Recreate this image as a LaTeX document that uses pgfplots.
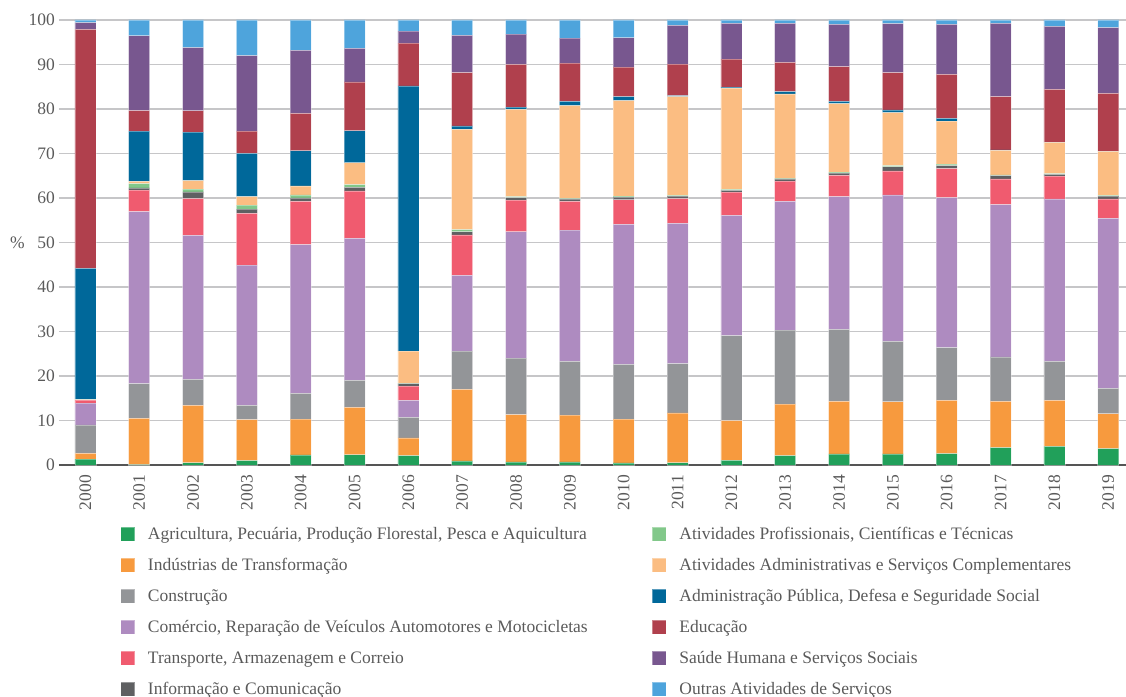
\documentclass[border=0pt]{standalone}
\usepackage{fontspec}
\setmainfont{Liberation Serif}
\usepackage{pgfplots}
\usepackage{pgfplotstable}
\pgfplotsset{compat=1.18}
\definecolor{cAgri}{HTML}{21A05A}
\definecolor{cInd}{HTML}{F79A3E}
\definecolor{cCons}{HTML}{939598}
\definecolor{cCom}{HTML}{AE8BC0}
\definecolor{cTra}{HTML}{F05B6F}
\definecolor{cInf}{HTML}{5F6062}
\definecolor{cPro}{HTML}{82C88A}
\definecolor{cAdm}{HTML}{FBBD82}
\definecolor{cPub}{HTML}{00689A}
\definecolor{cEdu}{HTML}{B0404D}
\definecolor{cSau}{HTML}{78578F}
\definecolor{cOut}{HTML}{4EA4DC}
\definecolor{tgray}{HTML}{5A5A5A}
\definecolor{ggray}{HTML}{C6C6C8}
\definecolor{bgray}{HTML}{555555}
\pgfplotstableread{
x agri ind cons com tra inf pro adm pub edu sau out
0  1.3  1.3   6.4  4.9   0.7   0.05 0.05 0.1   29.4  53.7  1.5   0.6
1  0.1  10.4  7.8  38.65 4.8   0.5  1.0  0.5   11.3  4.6   16.8  3.55
2  0.5  12.9  5.85 32.35 8.25  1.5  0.65 1.9   10.9  4.8   14.2  6.2
3  1.0  9.2   3.2  31.5  11.65 0.95 0.9  1.9   9.7   5.0   17.0  8.0
4  2.25 8.05  5.8  33.4  9.75  0.75 0.7  2.0   7.9   8.4   14.2  6.8
5  2.3  10.66 6.04 31.9  10.7  0.8  0.6  4.9   7.2   11.0  7.5   6.4
6  2.1  4.0   4.6  3.8   3.25  0.55 0.1  7.2   59.6  9.6   2.7   2.5
7  0.9  16.1  8.6  17.0  9.1   0.7  0.5  22.5  0.8   12.0  8.35  3.45
8  0.7  10.6  12.7 28.4  7.1   0.6  0.2  19.6  0.5   9.6   6.8   3.2
9  0.7  10.5  12.1 29.5  6.45  0.55 0.1  20.85 0.95  8.6   5.6   4.1
10 0.45 9.85  12.3 31.5  5.5   0.6  0.2  21.5  0.9   6.6   6.6   4.0
11 0.5  11.2  11.1 31.5  5.55  0.55 0.2  22.2  0.2   7.1   8.7   1.2
12 1.05 8.95  19.1 27.0  5.2   0.4  0.25 22.75 0.2   6.3   8.05  0.75
13 2.1  11.6  16.6 28.95 4.55  0.5  0.1  19.0  0.5   6.6   8.75  0.75
14 2.5  11.8  16.2 29.8  4.8   0.5  0.2  15.4  0.5   7.8   9.5   1.0
15 2.5  11.7  13.6 32.9  5.4   0.9  0.3  11.9  0.6   8.4   11.0  0.8
16 2.55 11.95 11.9 33.7  6.5   0.7  0.3  9.7   0.6   9.9   11.2  1.0
17 3.9  10.4  10.0 34.2  5.8   0.7  0.2  5.5   0.1   12.0  16.45 0.75
18 4.2  10.3  8.8  36.5  5.1   0.4  0.2  7.0   0.05  11.85 14.15 1.45
19 3.7  7.8   5.7  38.2  4.4   0.6  0.2  9.9   0.05  12.95 14.8  1.7
}\data
\begin{document}
\begin{tikzpicture}[x=1pt,y=1pt]
\path[use as bounding box] (0,0) rectangle (1126,696);
\begin{axis}[
  at={(59pt,231pt)}, anchor=south west,
  scale only axis, width=1067pt, height=445pt,
  ybar stacked, bar width=21pt,
  xmin=-0.49, xmax=19.33, ymin=0, ymax=100,
  ytick={0,10,...,100},
  xtick={0,...,19},
  xticklabels={2000,2001,2002,2003,2004,2005,2006,2007,2008,2009,2010,2011,2012,2013,2014,2015,2016,2017,2018,2019},
  /pgf/number format/assume math mode=true,
  tick label style={font=\rmfamily\fontsize{17.5}{21}\selectfont, text=tgray},
  xticklabel style={rotate=90, anchor=east, inner sep=0pt, xshift=-10pt},
  yticklabel style={inner sep=0pt, xshift=-4pt},
  major tick length=0pt,
  axis line style={draw=none},
  ymajorgrids, grid style={ggray, line width=1.3pt},
  clip=false,
  every axis plot/.append style={draw=white, draw opacity=0.35, line width=0.7pt},
  legend columns=2,
  legend style={draw=none, fill=none, inner sep=0pt,
    at={(axis description cs:0.0572,-0.1383)}, anchor=north west,
    font=\rmfamily\fontsize{17.5}{21}\selectfont, text=tgray,
    nodes={inner sep=0pt, text height=12.5pt, text depth=4pt, anchor=base west},
    row sep=14.5pt,
    /tikz/every odd column/.append style={column sep=13pt},
    /tikz/every even column/.append style={column sep=64pt}},
  sq/.style={legend image code/.code={\fill[##1] (0pt,-2pt) rectangle (14pt,12pt);}},
]
\addplot[fill=cAgri, forget plot] table[x=x,y=agri]{\data};
\addplot[fill=cInd, forget plot] table[x=x,y=ind]{\data};
\addplot[fill=cCons, forget plot] table[x=x,y=cons]{\data};
\addplot[fill=cCom, forget plot] table[x=x,y=com]{\data};
\addplot[fill=cTra, forget plot] table[x=x,y=tra]{\data};
\addplot[fill=cInf, forget plot] table[x=x,y=inf]{\data};
\addplot[fill=cPro, forget plot] table[x=x,y=pro]{\data};
\addplot[fill=cAdm, forget plot] table[x=x,y=adm]{\data};
\addplot[fill=cPub, forget plot] table[x=x,y=pub]{\data};
\addplot[fill=cEdu, forget plot] table[x=x,y=edu]{\data};
\addplot[fill=cSau, forget plot] table[x=x,y=sau]{\data};
\addplot[fill=cOut, forget plot] table[x=x,y=out]{\data};
\addlegendimage{sq, fill=cAgri}
\addlegendentry{Agricultura, Pecuária, Produção Florestal, Pesca e Aquicultura}
\addlegendimage{sq, fill=cPro}
\addlegendentry{Atividades Profissionais, Científicas e Técnicas}
\addlegendimage{sq, fill=cInd}
\addlegendentry{Indústrias de Transformação}
\addlegendimage{sq, fill=cAdm}
\addlegendentry{Atividades Administrativas e Serviços Complementares}
\addlegendimage{sq, fill=cCons}
\addlegendentry{Construção}
\addlegendimage{sq, fill=cPub}
\addlegendentry{Administração Pública, Defesa e Seguridade Social}
\addlegendimage{sq, fill=cCom}
\addlegendentry{Comércio, Reparação de Veículos Automotores e Motocicletas}
\addlegendimage{sq, fill=cEdu}
\addlegendentry{Educação}
\addlegendimage{sq, fill=cTra}
\addlegendentry{Transporte, Armazenagem e Correio}
\addlegendimage{sq, fill=cSau}
\addlegendentry{Saúde Humana e Serviços Sociais}
\addlegendimage{sq, fill=cInf}
\addlegendentry{Informação e Comunicação}
\addlegendimage{sq, fill=cOut}
\addlegendentry{Outras Atividades de Serviços}
\draw[bgray, line width=2pt] (rel axis cs:0,0) -- (rel axis cs:1,0);
\node[anchor=east, text=tgray, font=\rmfamily\fontsize{17.5}{21}\selectfont, inner sep=0pt] at (axis description cs:0,0.5) [xshift=-34pt] {\%};
\end{axis}
\end{tikzpicture}
\end{document}
